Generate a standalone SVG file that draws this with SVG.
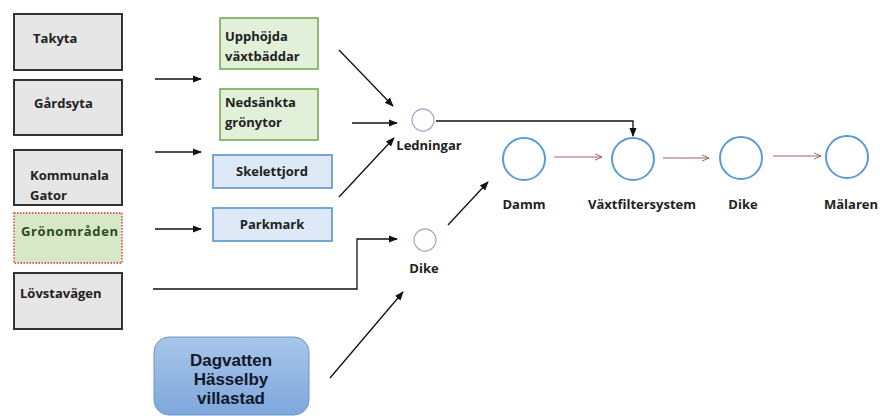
<svg xmlns="http://www.w3.org/2000/svg" width="880" height="416" viewBox="0 0 880 416">
<defs>
<style>
text{font-family:"Open Sans","Liberation Sans",sans-serif;font-weight:700;font-size:13px;fill:#222}
.src{fill:#e6e6e6;stroke:#333;stroke-width:2}
.grn{fill:#e2efd9;stroke:#82b366;stroke-width:1.8}
.blu{fill:#dde9f6;stroke:#6a9fd0;stroke-width:1.8}
.big{fill:#fff;stroke:#5b9bd5;stroke-width:2}
.sml{fill:#fff;stroke:#a8b4c8;stroke-width:1.3}
.ln{fill:none;stroke:#111;stroke-width:1.3}
.gl{fill:none;stroke:#a06060;stroke-width:1}
.mid{text-anchor:middle}
.dv{font-family:"Liberation Sans",Arial,sans-serif;font-size:17px;fill:#10182a}
</style>
<marker id="ah" viewBox="0 0 10 10" refX="9" refY="5" markerWidth="7" markerHeight="7" orient="auto"><path d="M0,1 L10,5 L0,9 z" fill="#111"/></marker>
<marker id="ag" viewBox="0 0 10 10" refX="9" refY="5" markerWidth="8" markerHeight="8" orient="auto"><path d="M0,1 L9,5 L0,9" fill="none" stroke="#a06060" stroke-width="1.2"/></marker>
<linearGradient id="dg" x1="0" y1="0" x2="0" y2="1"><stop offset="0" stop-color="#a9c6ea"/><stop offset="1" stop-color="#7ea7dc"/></linearGradient>
</defs>
<rect width="880" height="416" fill="#fff"/>
<g id="takyta"><rect class="src" x="14" y="14" width="108" height="56"/><text x="33" y="43">Takyta</text></g>
<g id="gardsyta"><rect class="src" x="14" y="80" width="108" height="55"/><text x="34" y="108">Gårdsyta</text></g>
<g id="kommunala"><rect class="src" x="14" y="150" width="108" height="55"/><text x="30" y="180">Kommunala</text><text x="30" y="200">Gator</text></g>
<g id="gronomraden"><rect x="14" y="213" width="108" height="50" fill="#d6e8c6" stroke="#e06060" stroke-width="1.8" stroke-dasharray="1.5 1.5"/><text x="21" y="236" textLength="97" style="fill:#2e4a1e">Grönområden</text></g>
<g id="lovstavagen"><rect class="src" x="14" y="273" width="108" height="56"/><text x="20" y="298">Lövstavägen</text></g>
<g id="upphojda"><rect class="grn" x="220" y="18" width="98" height="51"/><text x="225" y="41">Upphöjda</text><text x="225" y="61">växtbäddar</text></g>
<g id="nedsankta"><rect class="grn" x="220" y="89" width="98" height="51"/><text x="225" y="107">Nedsänkta</text><text x="225" y="127">grönytor</text></g>
<g id="skelettjord"><rect class="blu" x="213" y="155" width="119" height="33"/><text class="mid" x="272" y="176">Skelettjord</text></g>
<g id="parkmark"><rect class="blu" x="213" y="208" width="119" height="33"/><text class="mid" x="272" y="229">Parkmark</text></g>
<g id="dagvatten"><rect x="154" y="337" width="155" height="78" rx="15" fill="url(#dg)" stroke="#6d94c4" stroke-width="1"/><text class="mid dv" x="231" y="366">Dagvatten</text><text class="mid dv" x="231" y="385">Hässelby</text><text class="mid dv" x="231" y="404">villastad</text></g>
<g id="ledningar"><circle class="sml" cx="423" cy="120" r="11"/><text class="mid" x="429" y="150">Ledningar</text></g>
<g id="dike1"><circle class="sml" cx="425" cy="240" r="11"/><text class="mid" x="424" y="273">Dike</text></g>
<g id="damm"><circle class="big" cx="524" cy="159" r="21"/><text class="mid" x="524" y="209">Damm</text></g>
<g id="vaxtfilter"><circle class="big" cx="633" cy="159" r="21"/><text class="mid" x="642" y="209">Växtfiltersystem</text></g>
<g id="dike2"><circle class="big" cx="741" cy="158" r="21"/><text class="mid" x="743" y="209">Dike</text></g>
<g id="malaren"><circle class="big" cx="847" cy="157" r="21"/><text class="mid" x="851" y="209">Mälaren</text></g>
<g id="connectors">
<line class="ln" x1="155" y1="79" x2="201" y2="79" marker-end="url(#ah)"/>
<line class="ln" x1="155" y1="152" x2="201" y2="152" marker-end="url(#ah)"/>
<line class="ln" x1="155" y1="229" x2="201" y2="229" marker-end="url(#ah)"/>
<line class="ln" x1="339" y1="50" x2="393" y2="106" marker-end="url(#ah)"/>
<line class="ln" x1="352" y1="123" x2="397" y2="123" marker-end="url(#ah)"/>
<line class="ln" x1="339" y1="197" x2="394" y2="138" marker-end="url(#ah)"/>
<polyline class="ln" points="153,289 357,289 357,239 397,239" marker-end="url(#ah)"/>
<line class="ln" x1="330" y1="378" x2="403" y2="292" marker-end="url(#ah)"/>
<polyline class="ln" points="436,121 633,121 633,136" marker-end="url(#ah)"/>
<line class="ln" x1="448" y1="225" x2="488" y2="182" marker-end="url(#ah)"/>
<line class="gl" x1="554" y1="157" x2="602" y2="157" marker-end="url(#ag)"/>
<line class="gl" x1="663" y1="158" x2="709" y2="158" marker-end="url(#ag)"/>
<line class="gl" x1="773" y1="156" x2="821" y2="156" marker-end="url(#ag)"/>
</g>
</svg>
